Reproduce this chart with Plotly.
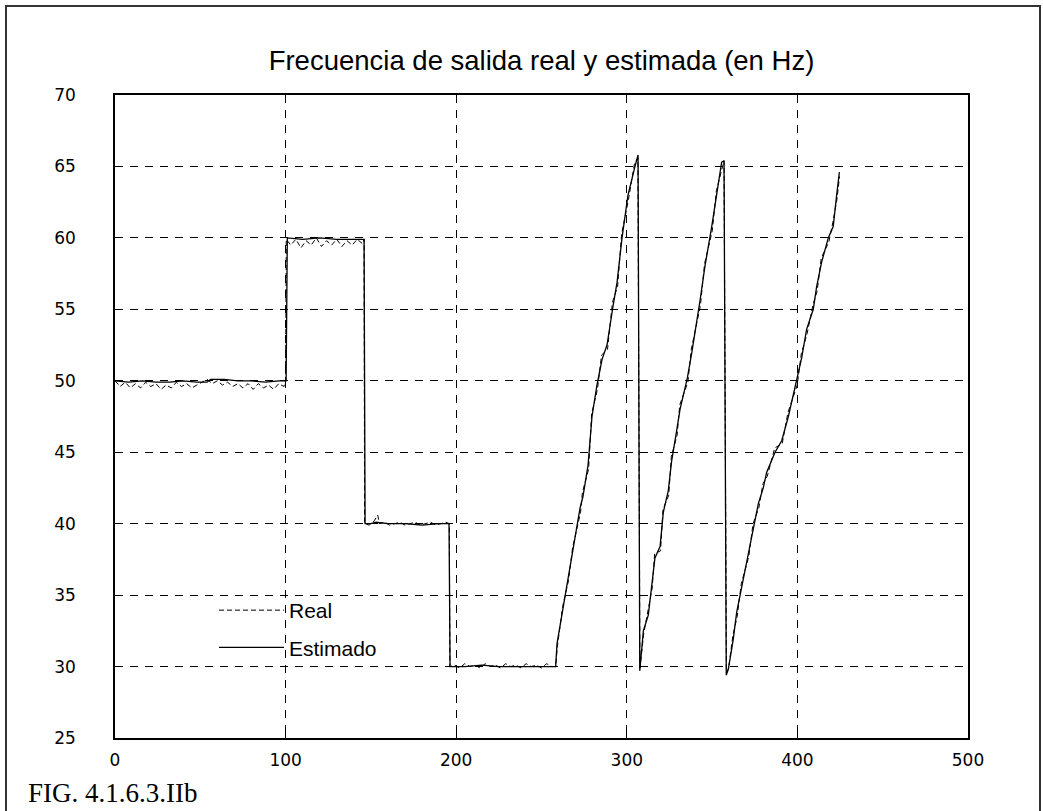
import plotly.graph_objects as go

# ---------------- data ----------------
real_x = [0, 3, 6, 9, 12, 15, 18, 21, 24, 27, 30, 33, 36, 39, 42, 45, 48, 51, 54, 57, 60, 63, 66, 69, 72, 75, 78, 81, 84, 87, 90, 93, 96, 99, 100,
          100.4, 103, 106, 109, 112, 115, 118, 121, 124, 127, 130, 133, 136, 139, 142, 145, 146,
          146.3, 149, 152, 154, 155, 158, 161, 164, 167, 170, 173, 176, 179, 182, 185, 188, 191, 194, 196,
          196.3, 199, 202, 205, 208, 211, 214, 217, 220, 223, 226, 229, 232, 235, 238, 241, 244, 247, 250, 253, 256, 258.3,
          259.3, 262.4, 265.8, 268.2, 272.9, 274.0, 277.6, 279.4, 282.8, 285.2, 288.7, 291.6, 294.6, 297.0, 301.0, 304.5, 306.5,
          307.7, 309.9, 312.4, 314.9, 316.3, 319.8, 321.2, 324.6, 326.1, 329.5, 331.0, 335.8, 337.8, 343.2, 345.6, 350.1, 352.5, 355.8, 357.0,
          358.4, 359.7, 362.2, 364.7, 367.1, 371.5, 374.0, 377.4, 379.8, 382.3, 386.7, 391.1, 394.5, 399.9, 402.3, 405.7, 409.1, 411.6, 414.0, 418.4, 420.8, 423.2, 424.7]
real_y = [50.0, 49.6, 49.9, 49.5, 49.8, 49.5, 49.9, 49.6, 49.8, 49.4, 49.7, 49.5, 49.9, 49.6, 49.8, 49.5, 49.7, 49.9, 50.1, 49.8, 50.0, 49.7, 49.9, 49.6, 49.8, 49.5, 49.8, 49.4, 49.8, 49.5, 49.7, 49.4, 49.8, 49.6, 50.0,
          59.9, 59.5, 59.9, 59.3, 59.8, 59.5, 60.0, 59.4, 59.8, 59.5, 59.9, 59.4, 59.8, 59.5, 59.9, 59.6, 59.9,
          40.0, 39.9, 40.2, 40.6, 40.0, 40.1, 39.9, 40.0, 40.1, 39.9, 40.0, 40.1, 39.9, 40.0, 40.1, 39.9, 40.0, 40.1, 40.0,
          30.0, 30.1, 29.9, 30.2, 30.0, 30.1, 29.9, 30.2, 30.0, 30.1, 29.9, 30.2, 30.0, 30.1, 29.9, 30.2, 30.0, 30.1, 29.9, 30.2, 30.0, 30.0,
          31.4, 34.2, 36.0, 38.3, 40.8, 42.2, 43.8, 47.7, 49.4, 51.8, 52.2, 55.5, 56.6, 60.3, 62.7, 65.2, 65.6,
          29.9, 32.3, 33.9, 35.5, 37.9, 38.1, 41.0, 42.0, 44.7, 46.2, 48.3, 49.9, 52.2, 55.3, 58.2, 60.5, 63.3, 65.0, 65.4,
          29.6, 29.9, 32.2, 33.5, 35.8, 37.7, 40.0, 41.1, 42.8, 43.3, 45.3, 45.6, 47.8, 49.7, 51.9, 53.3, 55.3, 56.3, 58.6, 59.7, 61.1, 62.7, 64.3]

est_x = [0, 8, 16, 24, 32, 40, 48, 54, 56, 64, 72, 80, 88, 96, 100.3,
         101.0, 110, 120, 130, 140, 146.0,
         146.6, 150, 153, 160, 170, 180, 190, 195.8,
         196.4, 205, 215, 225, 235, 245, 255, 258.3,
         259.1, 262.6, 265.5, 268.5, 272.6, 274.3, 277.3, 279.6, 282.5, 285.5, 288.4, 291.9, 294.3, 297.2, 300.7, 304.8, 306.6,
         307.6, 309.7, 312.6, 314.6, 316.5, 319.5, 321.4, 324.3, 326.3, 329.2, 331.2, 335.5, 338.0, 342.9, 345.8, 349.8, 352.7, 355.6, 357.0,
         358.3, 359.5, 362.4, 364.4, 367.3, 371.2, 374.2, 377.1, 380.0, 382.0, 386.9, 390.8, 394.7, 399.6, 402.5, 405.4, 409.3, 411.3, 414.2, 418.1, 421.0, 423.0, 424.6]
est_y = [50.0, 49.9, 50.0, 49.9, 49.9, 50.0, 49.9, 49.9, 50.1, 50.1, 50.0, 50.0, 49.9, 50.0, 50.0,
         60.0, 59.9, 60.0, 59.9, 59.9, 59.9,
         40.0, 40.0, 40.1, 40.0, 40.0, 39.9, 40.0, 40.0,
         30.0, 30.0, 30.1, 30.0, 30.0, 30.0, 30.0, 30.0,
         31.6, 34.0, 36.2, 38.0, 41.1, 41.9, 44.1, 47.5, 49.7, 51.5, 52.5, 55.2, 56.9, 60.0, 63.0, 65.0, 65.8,
         29.7, 32.5, 33.6, 35.8, 37.6, 38.4, 40.8, 42.3, 44.4, 46.5, 48.0, 50.2, 51.9, 55.6, 58.0, 60.8, 63.0, 65.3, 65.4,
         29.4, 29.8, 31.9, 33.8, 35.5, 38.0, 39.7, 41.4, 42.5, 43.6, 45.0, 45.8, 47.5, 50.0, 51.6, 53.6, 55.0, 56.6, 58.3, 60.0, 60.8, 63.0, 64.6]

x_ticks = [0, 100, 200, 300, 400, 500]
y_ticks = [25, 30, 35, 40, 45, 50, 55, 60, 65, 70]

title_text = "Frecuencia de salida real y estimada (en Hz)"
caption_text = "FIG. 4.1.6.3.IIb"

# ---------------- figure ----------------
fig = go.Figure()
fig.add_trace(go.Scatter(x=real_x, y=real_y, mode="lines", name="Real",
                         legendgroup="a",
                         line=dict(color="black", width=1, dash="5px,3px")))
fig.add_trace(go.Scatter(x=est_x, y=est_y, mode="lines", name="Estimado",
                         legendgroup="b",
                         line=dict(color="black", width=1.3)))

W, H = 1043, 811
L, R, T, B = 115, 75, 95, 73
pw, ph = W - L - R, H - T - B

def px2paper_x(px):
    return (px - L) / pw

def px2paper_y(py):
    return (H - B - py) / ph

axis_common = dict(
    showline=True, linecolor="black", linewidth=1.5, mirror=True,
    showgrid=True, gridcolor="black", gridwidth=1, griddash="8px,7px",
    ticks="inside", ticklen=8, tickcolor="black",
    tickfont=dict(family="DejaVu Sans", size=17, color="black"),
    zeroline=False,
)

fig.update_xaxes(range=[0, 500], tickvals=x_ticks, ticklabelstandoff=6, **axis_common)
fig.update_yaxes(range=[25, 70], tickvals=y_ticks, ticklabelstandoff=34, **axis_common)

shapes = [
    # outer frame
    dict(type="rect", xref="paper", yref="paper",
         x0=px2paper_x(6), x1=px2paper_x(1040), y0=px2paper_y(830), y1=px2paper_y(6),
         line=dict(color="#333333", width=2), fillcolor="rgba(0,0,0,0)", layer="above"),
    # white area behind legend
    dict(type="rect", xref="paper", yref="paper",
         x0=px2paper_x(190), x1=px2paper_x(420), y0=px2paper_y(686), y1=px2paper_y(576),
         line=dict(width=0), fillcolor="white", layer="between"),
]

fig.update_layout(
    width=W, height=H, autosize=False,
    margin=dict(l=L, r=R, t=T, b=B),
    paper_bgcolor="white", plot_bgcolor="white",
    title=dict(text=title_text, x=(L + pw / 2) / W, xanchor="center",
               y=1 - 60 / H, yanchor="middle",
               font=dict(family="Liberation Sans, Arial", size=27.5, color="black")),
    showlegend=True,
    legend=dict(x=px2paper_x(214), y=px2paper_y(590), xanchor="left", yanchor="top",
                bgcolor="rgba(0,0,0,0)", borderwidth=0,
                font=dict(family="Liberation Sans, Arial", size=21, color="black"),
                itemwidth=65, traceorder="grouped", tracegroupgap=7),
    shapes=shapes,
    annotations=[dict(text=caption_text, xref="paper", yref="paper",
                      x=px2paper_x(26), y=px2paper_y(793), xanchor="left", yanchor="middle",
                      showarrow=False,
                      font=dict(family="Liberation Serif, Times New Roman", size=27, color="black"))],
)

fig.write_html("out.html", config={"displayModeBar": False},
               post_script="document.body.style.margin='0';")
